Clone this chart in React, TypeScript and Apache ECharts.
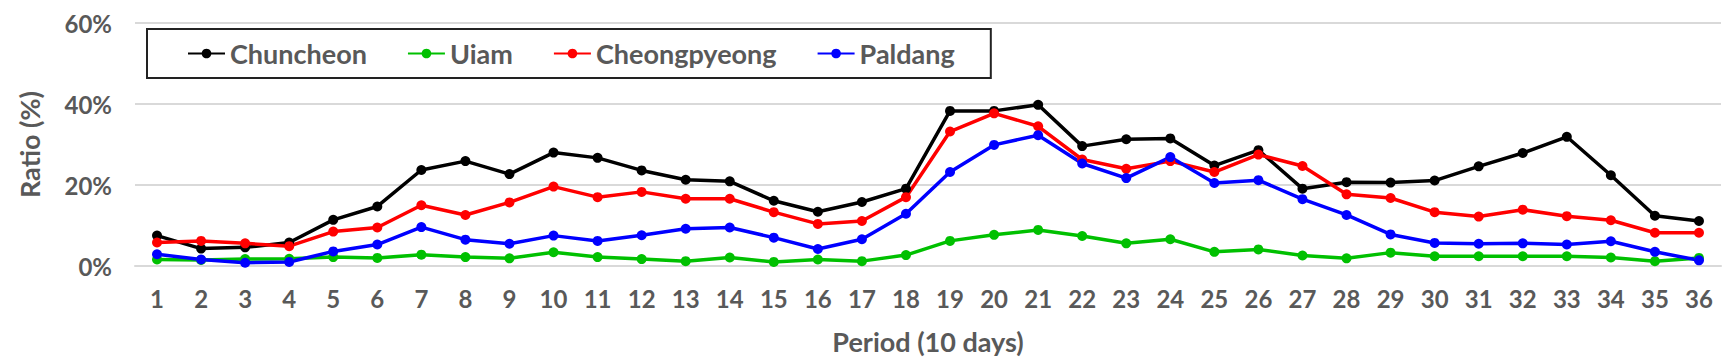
import React, { useEffect, useRef } from "react";
import * as echarts from "echarts";

const periods = Array.from({ length: 36 }, (_, i) => String(i + 1));
const seriesNames = ["Chuncheon", "Uiam", "Cheongpyeong", "Paldang"];
const seriesColors = ["#000000", "#00c000", "#ff0000", "#0000ff"];

const chuncheon = [7.5, 4.3, 4.6, 5.8, 11.4, 14.7, 23.7, 25.9, 22.7, 28.0, 26.7, 23.6, 21.3, 20.9, 16.1, 13.4, 15.8, 19.1, 38.3, 38.3, 39.8, 29.6, 31.3, 31.5, 24.8, 28.6, 19.1, 20.7, 20.6, 21.1, 24.6, 27.9, 31.9, 22.4, 12.4, 11.1];
const uiam = [1.6, 1.5, 1.7, 1.8, 2.2, 2.0, 2.8, 2.2, 1.9, 3.4, 2.2, 1.7, 1.2, 2.1, 1.0, 1.6, 1.2, 2.7, 6.2, 7.7, 8.9, 7.4, 5.6, 6.6, 3.5, 4.1, 2.6, 1.9, 3.3, 2.4, 2.4, 2.4, 2.4, 2.1, 1.2, 2.0];
const cheongpyeong = [5.8, 6.2, 5.6, 4.9, 8.5, 9.5, 15.0, 12.6, 15.7, 19.6, 17.0, 18.3, 16.6, 16.6, 13.3, 10.4, 11.1, 17.0, 33.2, 37.7, 34.5, 26.3, 24.0, 25.9, 23.2, 27.5, 24.7, 17.7, 16.8, 13.3, 12.2, 13.9, 12.3, 11.3, 8.2, 8.2];
const paldang = [2.9, 1.6, 0.8, 1.0, 3.6, 5.3, 9.6, 6.5, 5.5, 7.5, 6.2, 7.6, 9.2, 9.5, 7.0, 4.2, 6.6, 12.9, 23.2, 29.9, 32.3, 25.3, 21.7, 26.9, 20.5, 21.2, 16.5, 12.6, 7.8, 5.7, 5.5, 5.6, 5.3, 6.1, 3.5, 1.4];

const allData = [chuncheon, uiam, cheongpyeong, paldang];

const FONT = "Lato, 'Open Sans', sans-serif";
const GRAY = "#595959";

export default function App() {
  const ref = useRef<HTMLDivElement>(null);
  useEffect(() => {
    if (!ref.current) return;
    const chart = echarts.init(ref.current, undefined, { renderer: "svg" });
    chart.setOption({
      animation: false,
      backgroundColor: "#ffffff",
      textStyle: { fontFamily: FONT },
      grid: { left: 135, right: 15, top: 23, bottom: 98 },
      legend: {
        left: 147,
        top: 29,
        orient: "horizontal",
        borderColor: "#222222",
        borderWidth: 2,
        padding: [11, 36, 11, 40],
        itemGap: 40,
        itemWidth: 37,
        itemHeight: 12,
        textStyle: { color: GRAY, fontSize: 27, fontWeight: "bold", fontFamily: FONT },
        data: seriesNames,
      },
      xAxis: {
        type: "category",
        data: periods,
        boundaryGap: true,
        axisLine: { show: true, lineStyle: { color: "#d9d9d9", width: 2 } },
        axisTick: { show: false },
        axisLabel: { color: GRAY, fontSize: 24, fontWeight: "bold", margin: 20, fontFamily: FONT },
        name: "Period (10 days)",
        nameLocation: "middle",
        nameGap: 62,
        nameTextStyle: { color: GRAY, fontSize: 27, fontWeight: "bold", fontFamily: FONT },
      },
      yAxis: {
        type: "value",
        min: 0,
        max: 60,
        interval: 20,
        axisLine: { show: false },
        axisTick: { show: false },
        splitLine: { lineStyle: { color: "#d9d9d9", width: 2 } },
        axisLabel: { color: GRAY, fontSize: 24, fontWeight: "bold", margin: 23, formatter: "{value}%", fontFamily: FONT },
        name: "Ratio (%)",
        nameLocation: "middle",
        nameGap: 92,
        nameTextStyle: { color: GRAY, fontSize: 27, fontWeight: "bold", fontFamily: FONT },
      },
      series: seriesNames.map((name, i) => ({
        name,
        type: "line",
        data: allData[i],
        color: seriesColors[i],
        symbol: "circle",
        symbolSize: 10,
        lineStyle: { width: 3.5, color: seriesColors[i] },
        itemStyle: { color: seriesColors[i] },
      })),
    });
    return () => chart.dispose();
  }, []);
  return (
    <div
      ref={ref}
      style={{ position: "fixed", left: 0, top: 0, width: 1736, height: 364, background: "#fff" }}
    />
  );
}
